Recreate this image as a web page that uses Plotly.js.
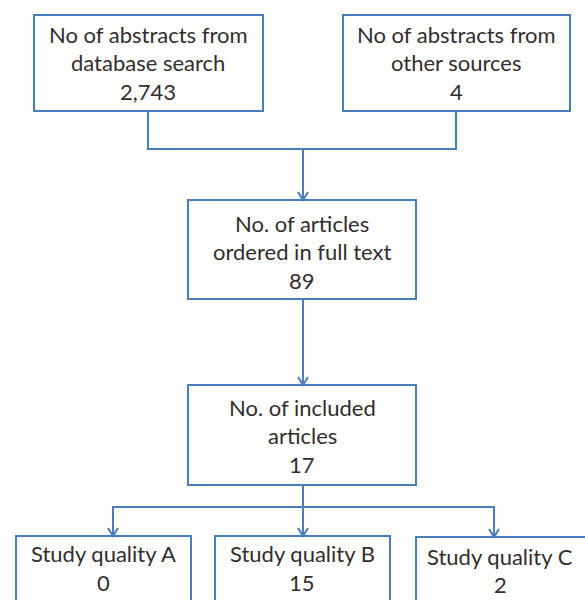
<!DOCTYPE html>
<html>
<head>
<meta charset="utf-8">
<script src="https://cdn.plot.ly/plotly-3.0.1.min.js"></script>
<style>html,body{margin:0;padding:0;background:#fff;}#chart{width:585px;height:600px;}</style>
</head>
<body>
<div id="chart"></div>
<script>
// ---- data ----
var stageLabels = [
  ["No of abstracts from", "database search"],
  ["No of abstracts from", "other sources"],
  ["No. of articles", "ordered in full text"],
  ["No. of included", "articles"],
  ["Study quality A"],
  ["Study quality B"],
  ["Study quality C"]
];
var stageCounts = ["2,743", "4", "89", "17", "0", "15", "2"];

// ---- layout geometry (pixels in a 585x600 frame) ----
var boxes = [
  {x0: 34,  x1: 263, y0: 15,  y1: 111, ty: 34,  dy: 28.5, cx: 148},
  {x0: 343, x1: 570, y0: 15,  y1: 111, ty: 34,  dy: 28.5, cx: 456},
  {x0: 188, x1: 416, y0: 200, y1: 299, ty: 223, dy: 28.5, cx: 302},
  {x0: 188, x1: 416, y0: 385, y1: 485, ty: 407, dy: 28.5, cx: 302},
  {x0: 16,  x1: 191, y0: 536, y1: 640, ty: 553, dy: 29, cx: 103},
  {x0: 215, x1: 390, y0: 536, y1: 640, ty: 553, dy: 29, cx: 302},
  {x0: 416, x1: 600, y0: 537, y1: 640, ty: 556, dy: 28, cx: 500}
];
var blue = '#4a7ebb';
var textColor = '#332d2d';
var font = {family: 'Lato, "Open Sans", sans-serif', size: 22, color: textColor};

var shapes = [];
var annotations = [];

boxes.forEach(function (b, i) {
  shapes.push({type: 'rect', xref: 'x', yref: 'y', x0: b.x0, x1: b.x1, y0: b.y0, y1: b.y1,
    line: {color: blue, width: 2}, fillcolor: 'rgba(0,0,0,0)'});
  var lines = stageLabels[i].concat([stageCounts[i]]);
  lines.forEach(function (t, k) {
    annotations.push({xref: 'x', yref: 'y', x: b.cx, y: b.ty + k * b.dy, text: t,
      showarrow: false, xanchor: 'center', yanchor: 'middle', borderpad: 0, font: font});
  });
});

function line(path) {
  shapes.push({type: 'path', xref: 'x', yref: 'y', path: path, line: {color: blue, width: 2}});
}
function arrowHead(x, y) {
  line('M' + (x - 5) + ',' + (y - 8) + ' L' + x + ',' + y + ' L' + (x + 5) + ',' + (y - 8));
}
var cxMid = 303;
// top merge
line('M148,111 L148,149 L456,149 L456,111');
line('M' + cxMid + ',149 L' + cxMid + ',200');
arrowHead(cxMid, 200);
line('M' + cxMid + ',299 L' + cxMid + ',385');
arrowHead(cxMid, 385);
// split
line('M' + cxMid + ',485 L' + cxMid + ',536');
arrowHead(cxMid, 536);
line('M113,536 L113,507 L494,507 L494,537');
arrowHead(113, 536);
arrowHead(494, 537);

var layout = {
  width: 585, height: 600,
  margin: {l: 0, r: 0, t: 0, b: 0},
  paper_bgcolor: '#fff', plot_bgcolor: '#fff',
  xaxis: {range: [0, 585], visible: false, fixedrange: true},
  yaxis: {range: [600, 0], visible: false, fixedrange: true},
  showlegend: false,
  shapes: shapes,
  annotations: annotations
};
Plotly.newPlot('chart', [{x: [], y: [], type: 'scatter'}], layout, {staticPlot: true, displayModeBar: false});
</script>
</body>
</html>
